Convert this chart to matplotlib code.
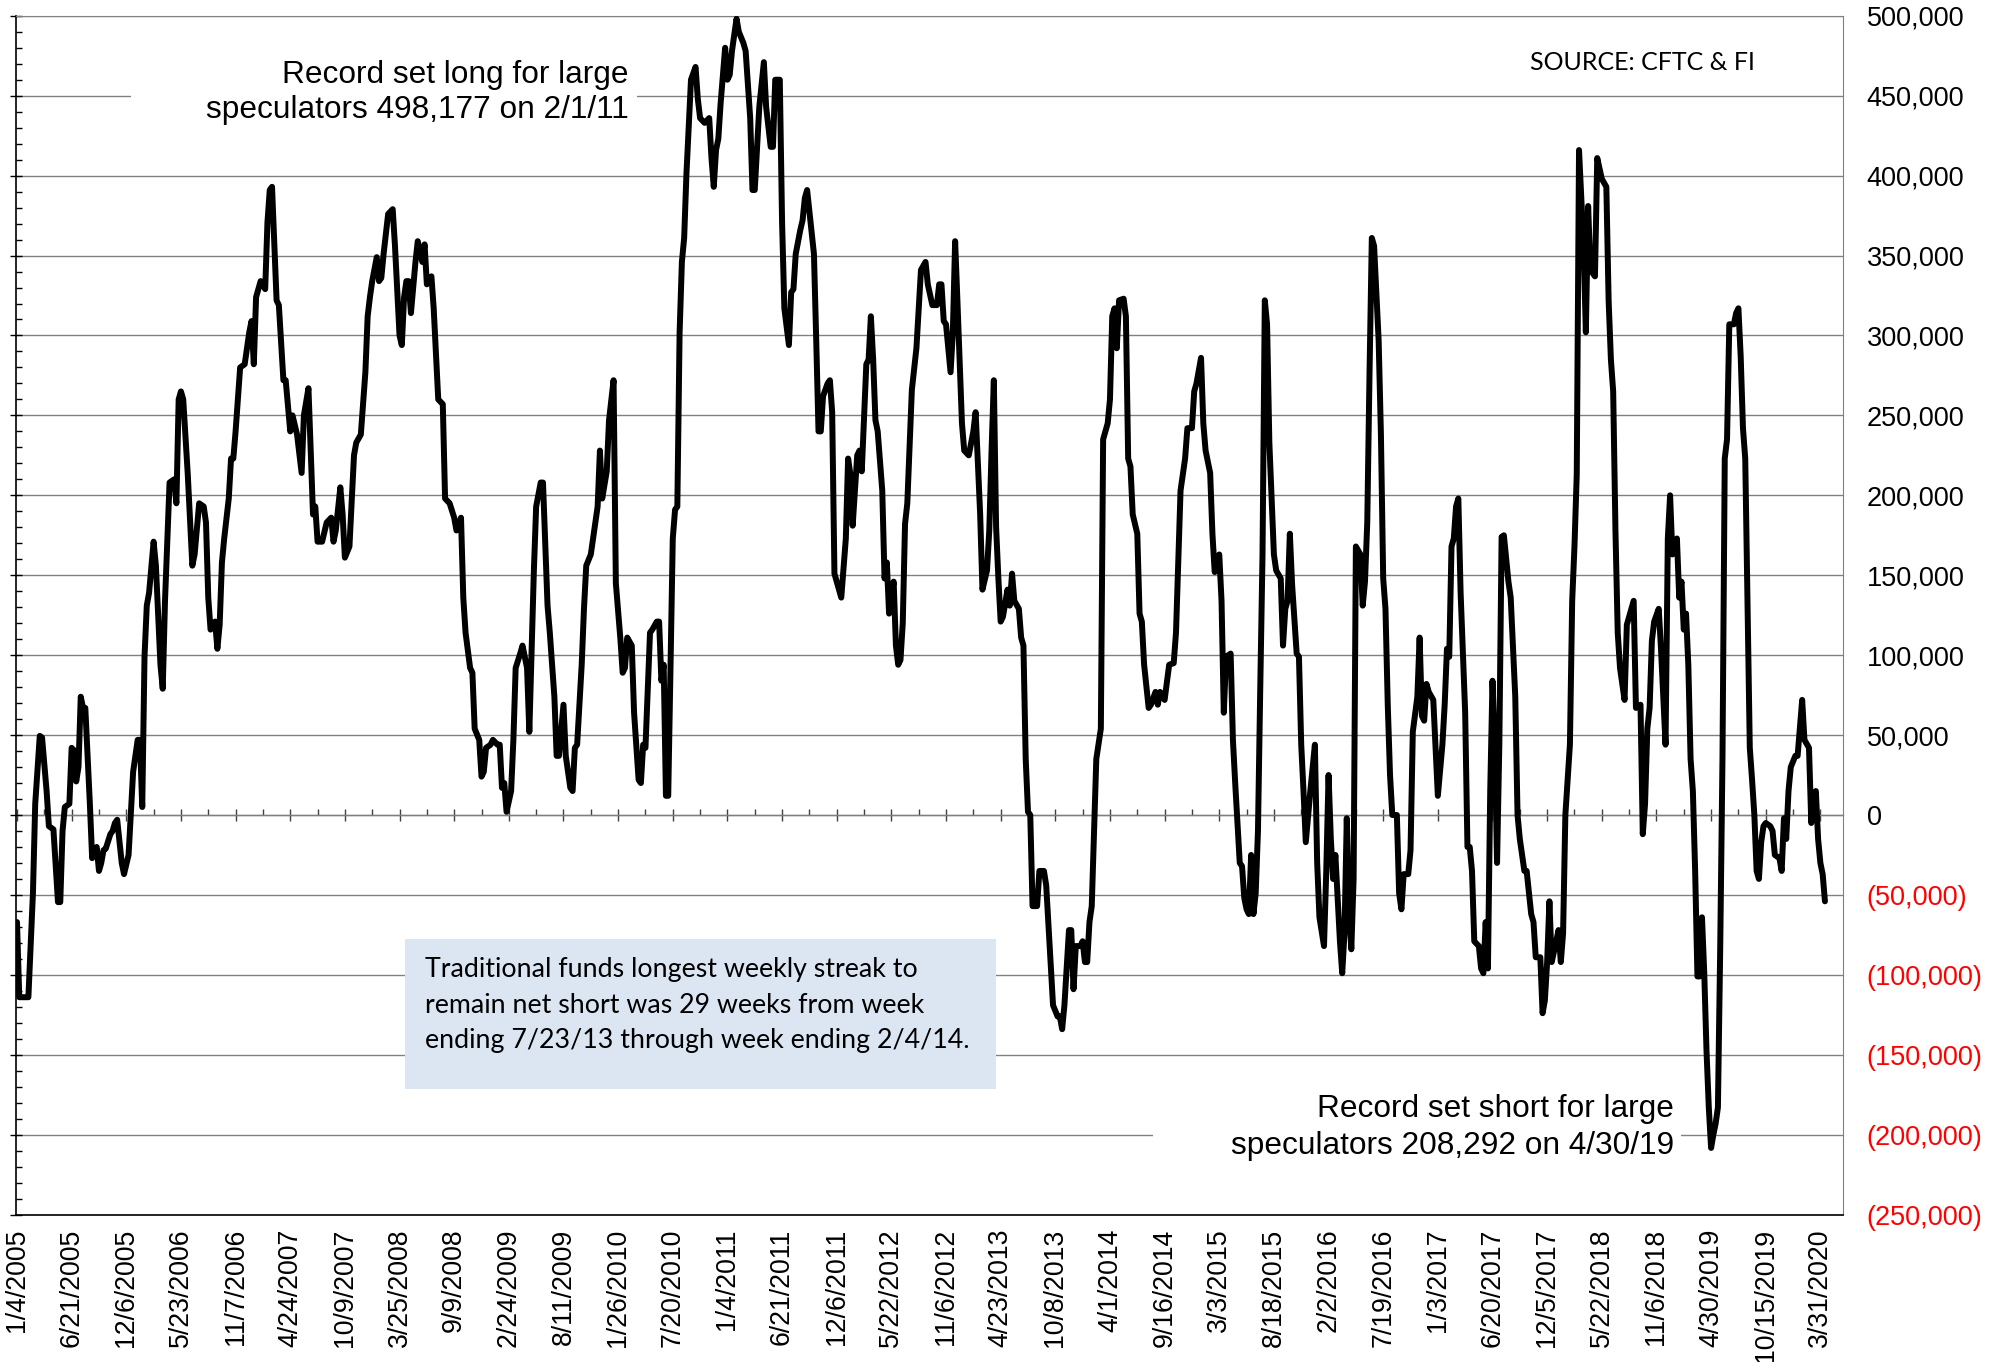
import numpy as np
import matplotlib as mpl
mpl.use('Agg')
import matplotlib.pyplot as plt
from matplotlib.patches import Rectangle
from matplotlib.ticker import MultipleLocator, FixedLocator, FuncFormatter

mpl.rcParams['font.family'] = ['Liberation Sans', 'DejaVu Sans']

# ---- data: large speculators net position (thousand contracts), one point per weekly report,
# ---- read off the chart (x = report number since 1/4/2005)
week_no = [
    0, 1, 5, 7, 8, 10, 11, 13, 14, 16, 17, 18, 19, 20, 21, 23, 24, 25, 26, 27, 28, 29, 30, 32, 33,
    35, 36, 37, 38, 39, 41, 42, 43, 44, 46, 47, 49, 51, 53, 54, 55, 56, 57, 58, 60, 61, 63, 64, 65,
    67, 69, 70, 71, 72, 73, 75, 77, 78, 80, 82, 83, 84, 85, 87, 88, 89, 90, 91, 93, 94, 95, 96, 98,
    100, 102, 103, 104, 105, 107, 109, 110, 111, 112, 114, 115, 117, 118, 120, 121, 123, 125, 126,
    128, 130, 131, 132, 134, 136, 138, 139, 140, 142, 143, 144, 146, 148, 149, 151, 153, 154, 155,
    156, 158, 159, 160, 161, 163, 165, 166, 168, 169, 170, 171, 172, 173, 175, 176, 178, 179, 180,
    182, 183, 185, 187, 188, 190, 192, 193, 195, 196, 197, 199, 200, 201, 203, 204, 205, 206, 208,
    209, 211, 212, 213, 214, 215, 217, 218, 219, 221, 222, 224, 225, 227, 228, 230, 231, 233, 234,
    236, 237, 238, 240, 241, 243, 244, 245, 246, 248, 249, 250, 252, 253, 255, 256, 257, 259, 260,
    262, 263, 265, 266, 267, 268, 270, 271, 273, 274, 275, 276, 278, 279, 281, 282, 283, 284, 285,
    286, 288, 289, 290, 291, 292, 293, 294, 295, 296, 298, 299, 300, 302, 304, 305, 306, 307, 308,
    309, 311, 312, 313, 314, 315, 316, 317, 319, 320, 322, 323, 324, 326, 328, 329, 331, 332, 333,
    335, 336, 337, 339, 340, 341, 342, 344, 345, 346, 347, 350, 351, 352, 353, 354, 356, 357, 358,
    359, 361, 362, 364, 365, 366, 367, 369, 370, 371, 373, 374, 375, 376, 377, 378, 380, 381, 382,
    383, 385, 386, 387, 388, 389, 390, 391, 393, 395, 397, 399, 400, 402, 404, 405, 406, 407, 408,
    410, 411, 412, 413, 415, 416, 418, 420, 421, 423, 424, 426, 427, 428, 429, 430, 431, 432, 433,
    435, 436, 437, 438, 440, 441, 442, 443, 444, 445, 446, 448, 449, 451, 452, 454, 455, 457, 458,
    459, 460, 462, 463, 464, 465, 467, 468, 469, 470, 471, 472, 473, 474, 476, 477, 479, 480, 481,
    482, 483, 484, 486, 487, 488, 489, 490, 492, 493, 494, 495, 497, 498, 500, 501, 502, 504, 506,
    508, 509, 510, 511, 513, 514, 516, 517, 518, 520, 521, 522, 524, 525, 526, 528, 529, 530, 531,
    533, 534, 535, 537, 538, 539, 540, 541, 542, 543, 544, 545, 546, 547, 548, 549, 550, 552, 553,
    555, 556, 557, 558, 559, 560, 562, 563, 564, 565, 566, 568, 570, 571, 572, 574, 575, 576, 577,
    578, 579, 581, 582, 583, 584, 585, 586, 587, 588, 590, 591, 592, 593, 594, 595, 596, 598, 599,
    600, 601, 602, 603, 604, 606, 607, 608, 609, 611, 612, 613, 615, 616, 617, 618, 619, 620, 622,
    624, 626, 627, 628, 629, 630, 631, 632, 633, 634, 636, 637, 638, 639, 640, 642, 643, 644, 645,
    646, 647, 648, 649, 650, 651, 652, 653, 655, 656, 658, 659, 660, 662, 663, 665, 666, 667, 669,
    670, 671, 672, 673, 674, 676, 677, 678, 679, 680, 682, 683, 684, 685, 686, 688, 689, 690, 691,
    693, 694, 696, 698, 699, 700, 701, 702, 703, 704, 706, 707, 708, 710, 711, 713, 714, 715, 716,
    717, 718, 719, 721, 722, 724, 725, 726, 727, 729, 730, 731, 732, 733, 734, 735, 736, 737, 738,
    739, 740, 741, 742, 743, 744, 745, 746, 747, 748, 749, 750, 751, 752, 754, 755, 756, 757, 758,
    759, 760, 761, 762, 763, 764, 765, 766, 767, 768, 770, 771, 772, 774, 775, 776, 777, 778, 779,
    781, 782, 784, 785, 787, 788, 789, 790, 791, 792, 793, 794,
]
net_k = [
    -67, -114, -114, -49, 7, 49.5, 48.5, 15, -7, -9, -32, -54.5, -54.5, -10, 5, 7, 42, 40.5, 21, 30,
    74, 67, 67, 7, -27, -20, -35, -30, -22, -21, -12, -10, -5, -3, -30, -37, -25, 27, 47, 47, 5, 99,
    131, 139, 171, 156, 94, 79, 134, 208, 210, 195, 260, 265, 260, 213, 156, 163, 195, 193, 183,
    136, 116, 121, 104, 119, 158, 173, 198, 223, 223, 240, 280, 282, 302, 309, 282, 324, 334, 329,
    371, 391, 393, 322, 319, 272, 272, 240, 250, 238, 214, 250, 267, 188, 193, 171, 171, 183, 186,
    171, 178, 205, 188, 161, 168, 225, 233, 238, 277, 312, 324, 334, 349, 334, 336, 351, 376, 379,
    356, 300, 294, 324, 334, 334, 314, 346, 359, 346, 357, 332, 337, 317, 260, 257, 198, 195, 186,
    178, 186, 136, 114, 92, 89, 54, 47, 24, 27, 42, 44, 47, 44, 44, 17, 20, 2, 15, 47, 92, 101, 106,
    92, 52, 153, 193, 208, 208, 131, 114, 74, 37, 37, 69, 37, 17, 15, 42, 44, 94, 129, 156, 163,
    173, 193, 228, 198, 215, 247, 272, 145, 110, 89, 92, 111, 106, 64, 22, 20, 44, 42, 114, 116,
    121, 121, 84, 94, 12, 12, 173, 191, 193, 302, 346, 361, 401, 431, 460, 468, 448, 436, 433, 436,
    411, 393, 416, 423, 445, 480, 460, 463, 478, 488, 498.177, 490, 483, 478, 436, 391, 391, 443,
    471, 443, 418, 418, 460, 460, 371, 317, 294, 327, 329, 351, 366, 372, 386, 391, 351, 297, 240,
    240, 262, 270, 272, 252, 151, 141, 136, 173, 223, 213, 181, 225, 228, 215, 282, 285, 312, 285,
    247, 240, 203, 148, 158, 126, 146, 106, 94, 97, 120, 182, 195, 266, 292, 341, 346, 332, 319,
    319, 332, 332, 309, 307, 277, 302, 359, 322, 245, 228, 225, 240, 252, 188, 141, 153, 178, 228,
    272, 180, 148, 121, 124, 141, 131, 151, 134, 129, 111, 106, 35, 2, 0, -57, -57, -35, -35, -44,
    -94, -119, -126, -126, -134, -119, -72, -72, -109, -82, -82, -79, -92, -92, -67, -57, -10, 35,
    54, 235, 245, 260, 312, 317, 292, 322, 323, 312, 223, 218, 188, 176, 126, 121, 94, 67, 69, 77,
    69, 77, 72, 94, 95, 114, 158, 203, 223, 242, 242, 265, 270, 286, 245, 228, 214, 176, 152, 163,
    134, 64, 99, 101, 47, 20, -30, -32, -52, -59, -62, -25, -62, -49, -10, 79, 163, 322, 307, 233,
    163, 153, 148, 106, 129, 134, 176, 144, 101, 99, 44, 15, -17, 15, 44, -30, -64, -82, -35, 25,
    -15, -40, -25, -79, -99, -74, -2, -59, -84, -40, 168, 163, 131, 146, 183, 277, 361, 356, 297,
    238, 148, 129, 69, 25, 0, 0, -49, -59, -37, -37, -22, 52, 74, 111, 62, 59, 82, 77, 72, 12, 44,
    69, 104, 99, 168, 173, 193, 198, 139, 64, -20, -20, -35, -79, -82, -96, -99, -67, -96, 15, 84,
    44, -30, 44, 174, 175, 146, 136, 74, 0, -15, -35, -35, -62, -67, -89, -89, -124, -116, -92, -54,
    -92, -79, -72, -92, -74, 0, 44, 134, 168, 213, 416, 356, 302, 381, 341, 337, 411, 398, 393, 322,
    285, 265, 178, 114, 92, 72, 119, 124, 134, 67, 69, -12, 7, 54, 67, 109, 121, 129, 104, 44, 173,
    200, 163, 173, 136, 146, 116, 126, 94, 35, 15, -35, -101, -101, -64, -99, -148, -183, -208.292,
    -200, -193, -183, -84, 35, 223, 235, 307, 307, 314, 317, 287, 242, 223, 134, 42, 22, 0, -35,
    -40, -17, -7, -5, -7, -10, -25, -27, -35, -2, -15, 15, 30, 37, 37, 72, 47, 42, -5, 12, 15, -15,
    -30, -37, -54,
]
# category labels shown every 24 reports
label_step = 24
date_labels = [
    '1/4/2005', '6/21/2005', '12/6/2005', '5/23/2006', '11/7/2006', '4/24/2007', '10/9/2007',
    '3/25/2008', '9/9/2008', '2/24/2009', '8/11/2009', '1/26/2010', '7/20/2010', '1/4/2011',
    '6/21/2011', '12/6/2011', '5/22/2012', '11/6/2012', '4/23/2013', '10/8/2013', '4/1/2014',
    '9/16/2014', '3/3/2015', '8/18/2015', '2/2/2016', '7/19/2016', '1/3/2017', '6/20/2017',
    '12/5/2017', '5/22/2018', '11/6/2018', '4/30/2019', '10/15/2019', '3/31/2020',
]
y_ticks = list(range(-250000, 500001, 50000))

# ---- figure geometry in pixels
W, H = 1992, 1362
px0, px1 = 16, 1843
py_top, py_bot = 15.8, 1214.6
px_week0, px_per_week = 17, 2.277

fig = plt.figure(figsize=(W / 100, H / 100), dpi=100, facecolor='white')
ax = fig.add_axes([px0 / W, 1 - py_bot / H, (px1 - px0) / W, (py_bot - py_top) / H])

def axfrac(x, y):
    return (x - px0) / (px1 - px0), (py_bot - y) / (py_bot - py_top)

ax.plot(week_no, np.array(net_k) * 1000, color='black', lw=4.3,
        solid_joinstyle='round', solid_capstyle='round', zorder=4)

xl = -(px_week0 - px0) / px_per_week
ax.set_xlim(xl, xl + (px1 - px0) / px_per_week)
ax.set_ylim(-250000, 500000)

# x labels at the bottom
label_pos = [i * label_step for i in range(len(date_labels))]
ax.set_xticks(label_pos)
ax.set_xticklabels(date_labels)
ax.tick_params(axis='x', length=0, pad=10, labelsize=19.2, labelrotation=90)

# tick marks along the zero line
zero_ax = ax.secondary_xaxis(250000 / 750000)
zero_ax.set_xticks(label_pos)
zero_ax.xaxis.set_minor_locator(FixedLocator([p + label_step // 2 for p in label_pos[:-1]]))
zero_ax.tick_params(which='major', direction='inout', length=8.6, width=1, color='#404040',
                    labelbottom=False, labeltop=False)
zero_ax.tick_params(which='minor', direction='in', length=4.3, width=1, color='#404040')
for s in zero_ax.spines.values():
    s.set_color('#505050')
    s.set_linewidth(0.9)

# y axis: ticks on left, labels on right
ax.set_yticks(y_ticks)
ax.yaxis.set_minor_locator(MultipleLocator(10000))
ax.yaxis.set_major_formatter(FuncFormatter(
    lambda v, p: f"{v:,.0f}" if v >= 0 else f"({-v:,.0f})"))
ax.tick_params(axis='y', which='major', direction='inout', length=8.6, width=1,
               left=True, right=False, labelleft=False, labelright=True,
               labelsize=19.5, pad=12.8)
ax.tick_params(axis='y', which='minor', direction='in', length=4.3, width=1,
               left=True, right=False)
for tick, v in zip(ax.yaxis.get_major_ticks(len(y_ticks)), y_ticks):
    tick.label2.set_color('#ff0000' if v < 0 else 'black')

ax.set_axisbelow(True)
ax.grid(axis='y', which='major', color='#808080', lw=1.0)
ax.spines['left'].set_color('black')
ax.spines['left'].set_linewidth(1.2)
ax.spines['bottom'].set_color('black')
ax.spines['bottom'].set_linewidth(1.2)
ax.spines['top'].set_color('#808080')
ax.spines['top'].set_linewidth(0.8)
ax.spines['right'].set_color('#808080')
ax.spines['right'].set_linewidth(0.8)

# boxes behind the annotations
def add_box(x0, y0, x1, y1, color):
    a0, b0 = axfrac(x0, y1)
    a1, b1 = axfrac(x1, y0)
    ax.add_patch(Rectangle((a0, b0), a1 - a0, b1 - b0, transform=ax.transAxes,
                           facecolor=color, edgecolor='none', zorder=2))

add_box(131, 30, 637, 135, 'white')
add_box(1153, 1088, 1681, 1168, 'white')
add_box(405, 939, 996, 1089, '#dce6f2')

def ftext(x, y, s, **kw):
    fig.text(x / W, 1 - y / H, s, **kw)

ftext(629, 83.3, 'Record set long for large', ha='right', va='baseline', fontsize=22.8)
ftext(629, 118.3, 'speculators 498,177 on 2/1/11', ha='right', va='baseline', fontsize=22.8)
ftext(1674, 1117, 'Record set short for large', ha='right', va='baseline', fontsize=22.8)
ftext(1674, 1154, 'speculators 208,292 on 4/30/19', ha='right', va='baseline', fontsize=22.8)
ftext(1530, 69.6, 'SOURCE: CFTC & FI', ha='left', va='baseline', fontsize=18,
      family=['Lato', 'DejaVu Sans'])

box_lines = ['Traditional funds longest weekly streak to',
             'remain net short was 29 weeks from week',
             'ending 7/23/13 through week ending 2/4/14.']
for line, yb in zip(box_lines, [976.7, 1012.7, 1048.3]):
    ftext(425, yb, line, ha='left', va='baseline', fontsize=19.3,
          family=['Lato', 'DejaVu Sans'])

fig.savefig('out.png', dpi=100, facecolor='white')
